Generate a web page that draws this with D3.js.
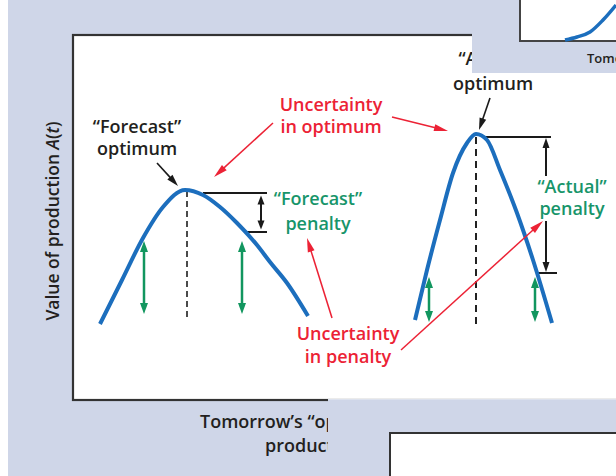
<!DOCTYPE html>
<html>
<head>
<meta charset="utf-8">
<script src="https://cdnjs.cloudflare.com/ajax/libs/d3/7.8.5/d3.min.js"></script>
<style>
html, body { margin: 0; padding: 0; background: #fff; }
svg { display: block; }
text { font-family: "Open Sans", "Noto Sans", sans-serif; font-weight: 600; }
</style>
</head>
<body>
<div id="vis"></div>
<script>

// curve samples (chart units: 1 unit = 5px)
var forecastX = [5.4, 9.8, 14, 18, 22.4, 26, 29.4, 32.8, 36.8, 39.4, 42.8, 47];
var forecastY = [15.2, 24, 32.4, 38.6, 42, 41, 38.6, 35.4, 31, 27.6, 23.4, 16.8];
var actualX = [68.4, 70.8, 73.4, 76, 78.8, 80.6, 82.8, 85.4, 88.8, 92, 95.8];
var actualY = [16, 26, 36, 45.4, 51.4, 53.2, 52, 46, 37.4, 28, 15.4];
var insetX = [98.4, 100.8, 103.4, 106, 108.6];
var insetY = [72, 72.6, 73.6, 76, 79];

// optimum markers (x, bottom, top)
var optimumLines = [
    {x: 22.8, y0: 16.6, y1: 41.8, color: "#4a4a4a", dash: "6,4"},
    {x: 80.6, y0: 15.2, y1: 53.2, color: "#222", dash: "7,5"}
];

// green spread arrows
var spreadArrows = [
    {x: 14.2, y0: 17.2, y1: 31.8},
    {x: 33.8, y0: 17.2, y1: 31.8},
    {x: 71.2, y0: 15.6, y1: 24.6},
    {x: 92.4, y0: 15.6, y1: 24.6}
];

// penalty brackets
var penalties = [
    {top: 41.4, topX: [26, 38.8], bot: 33.6, botX: [34.8, 38.8], ax: 37.6, gap: null},
    {top: 52.6, topX: [81.8, 95.6], bot: 25.4, botX: [93, 96.8], ax: 94.6, gap: [44.8, 35.8]}
];

// callout arrows [from, tip]
var blackCallouts = [
    [[16.8, 47.4], [21, 42.8]],
    [[83.4, 60.4], [81.2, 54]]
];
var redCallouts = [
    [[40, 55.4], [28.2, 44.6]],
    [[63.8, 56.6], [75, 53.8]],
    [[51.8, 16.4], [46.8, 32.4]],
    [[65.6, 10], [94, 35.8]]
];

// labels: text, x, baseline y, colour
var labels = [
    ["\u201CForecast\u201D", 12.8, 53.4, "dark"],
    ["optimum", 12.8, 49, "dark"],
    ["Uncertainty", 51.6, 57.8, "red"],
    ["in optimum", 51.6, 53.4, "red"],
    ["\u201CActual\u201D", 84, 67, "dark"],
    ["optimum", 84, 62, "dark"],
    ["\u201CForecast\u201D", 49, 39, "green"],
    ["penalty", 49, 34, "green"],
    ["\u201CActual\u201D", 99.8, 41.4, "green"],
    ["penalty", 99.8, 37, "green"],
    ["Uncertainty", 55, 12, "red"],
    ["in penalty", 55, 7.4, "red"]
];

var COLORS = {dark: "#231f20", red: "#ec2235", green: "#17956a"};
var BLUE = "#1c6ebd";
var GREEN = "#12965f";
var BG = "#cfd6e8";

var width = 616, height = 476;

var x = d3.scaleLinear().domain([0, 108.6]).range([73, 616]);
var y = d3.scaleLinear().domain([0, 80]).range([400, 0]);

var svg = d3.select("#vis").append("svg")
    .attr("width", width)
    .attr("height", height);

// page background
svg.append("rect").attr("width", width).attr("height", height).attr("fill", "#fff");
svg.append("rect").attr("x", 8).attr("width", width - 8).attr("height", height).attr("fill", BG);

// main panel
svg.append("rect")
    .attr("x", 73).attr("y", 35)
    .attr("width", 620).attr("height", 365)
    .attr("fill", "#fff")
    .attr("stroke", "#333").attr("stroke-width", 2.2);

var plot = svg.append("g");

var line = d3.line()
    .x(function(d) { return x(d[0]); })
    .y(function(d) { return y(d[1]); })
    .curve(d3.curveMonotoneX);

function zip(a, b) {
    return a.map(function(v, i) { return [v, b[i]]; });
}

function head(g, from, tip, len, wid, color) {
    var ang = Math.atan2(tip[1] - from[1], tip[0] - from[0]);
    var bx = tip[0] - len * Math.cos(ang), by = tip[1] - len * Math.sin(ang);
    var nx = -Math.sin(ang) * wid / 2, ny = Math.cos(ang) * wid / 2;
    g.append("path")
        .attr("d", "M" + tip[0] + "," + tip[1] + "L" + (bx + nx) + "," + (by + ny) + "L" + (bx - nx) + "," + (by - ny) + "Z")
        .attr("fill", color);
    return [bx + Math.cos(ang) * 2, by + Math.sin(ang) * 2];
}

function arrow(g, a, b, color, sw, len, wid, both) {
    var p0 = [x(a[0]), y(a[1])], p1 = [x(b[0]), y(b[1])];
    var e1 = head(g, p0, p1, len, wid, color);
    var e0 = both ? head(g, p1, p0, len, wid, color) : p0;
    g.append("line")
        .attr("x1", e0[0]).attr("y1", e0[1])
        .attr("x2", e1[0]).attr("y2", e1[1])
        .attr("stroke", color).attr("stroke-width", sw);
}

// dashed optimum lines
plot.selectAll(".opt")
    .data(optimumLines)
    .enter().append("line")
    .attr("class", "opt")
    .attr("x1", function(d) { return x(d.x); })
    .attr("x2", function(d) { return x(d.x); })
    .attr("y1", function(d) { return y(d.y0); })
    .attr("y2", function(d) { return y(d.y1); })
    .attr("stroke", function(d) { return d.color; })
    .attr("stroke-width", 2)
    .attr("stroke-dasharray", function(d) { return d.dash; });

// penalty brackets
penalties.forEach(function(p) {
    plot.append("line")
        .attr("x1", x(p.topX[0])).attr("x2", x(p.topX[1]))
        .attr("y1", y(p.top)).attr("y2", y(p.top))
        .attr("stroke", "#1a1a1a").attr("stroke-width", 2);
    plot.append("line")
        .attr("x1", x(p.botX[0])).attr("x2", x(p.botX[1]))
        .attr("y1", y(p.bot)).attr("y2", y(p.bot))
        .attr("stroke", "#1a1a1a").attr("stroke-width", 2);
    if (p.gap) {
        arrow(plot, [p.ax, p.gap[0]], [p.ax, p.top - 0.2], "#1a1a1a", 2, 10, 7, false);
        arrow(plot, [p.ax, p.gap[1]], [p.ax, p.bot + 0.2], "#1a1a1a", 2, 10, 7, false);
    } else {
        arrow(plot, [p.ax, p.top - 0.5], [p.ax, p.bot + 0.5], "#1a1a1a", 2, 9, 7, true);
    }
});

// blue curves
[zip(forecastX, forecastY), zip(actualX, actualY)].forEach(function(pts) {
    plot.append("path")
        .datum(pts)
        .attr("d", line)
        .attr("fill", "none")
        .attr("stroke", BLUE)
        .attr("stroke-width", 4);
});

// green spread arrows
spreadArrows.forEach(function(a) {
    arrow(plot, [a.x, a.y0], [a.x, a.y1], GREEN, 2.5, 11, 8, true);
});

blackCallouts.forEach(function(c) {
    arrow(plot, c[0], c[1], "#1a1a1a", 1.6, 12, 7, false);
});
redCallouts.forEach(function(c) {
    arrow(plot, c[0], c[1], COLORS.red, 1.5, 14, 7, false);
});

plot.selectAll(".lab")
    .data(labels)
    .enter().append("text")
    .attr("class", "lab")
    .attr("x", function(d) { return x(d[1]); })
    .attr("y", function(d) { return y(d[2]); })
    .attr("text-anchor", "middle")
    .attr("font-size", 18)
    .attr("fill", function(d) { return COLORS[d[3]]; })
    .text(function(d) { return d[0]; });

// axis titles
var ytitle = svg.append("text")
    .attr("transform", "translate(59,221) rotate(-90)")
    .attr("text-anchor", "middle")
    .attr("font-size", 17.5)
    .attr("fill", COLORS.dark);
ytitle.append("tspan").text("Value of production ");
ytitle.append("tspan").attr("font-style", "italic").text("A");
ytitle.append("tspan").text("(");
ytitle.append("tspan").attr("font-style", "italic").text("t");
ytitle.append("tspan").text(")");

svg.append("text").attr("x", 200).attr("y", 428)
    .attr("font-size", 18).attr("fill", COLORS.dark)
    .text("Tomorrow\u2019s \u201Coptimum\u201D");
svg.append("text").attr("x", 265).attr("y", 452)
    .attr("font-size", 18).attr("fill", COLORS.dark)
    .text("production");

// overlapping panels from neighbouring figures
var over = svg.append("g");
over.append("rect").attr("x", 472).attr("y", 0).attr("width", 144).attr("height", 73).attr("fill", BG);
over.append("rect").attr("x", 520).attr("y", -10).attr("width", 110).attr("height", 51)
    .attr("fill", "#fff").attr("stroke", "#444").attr("stroke-width", 2);
over.append("path")
    .datum(zip(insetX, insetY))
    .attr("d", line)
    .attr("fill", "none")
    .attr("stroke", BLUE)
    .attr("stroke-width", 3.5);
over.append("text").attr("x", 587).attr("y", 63)
    .attr("font-size", 13).attr("fill", COLORS.dark)
    .text("Tomorrow\u2019s");

over.append("rect").attr("x", 328).attr("y", 399).attr("width", 288).attr("height", 77).attr("fill", BG);
over.append("line").attr("x1", 328).attr("x2", 616).attr("y1", 399.5).attr("y2", 399.5)
    .attr("stroke", "#dde2ee").attr("stroke-width", 1);
over.append("rect").attr("x", 390).attr("y", 433).attr("width", 240).attr("height", 60)
    .attr("fill", "#fff").attr("stroke", "#333").attr("stroke-width", 2);

</script>
</body>
</html>
